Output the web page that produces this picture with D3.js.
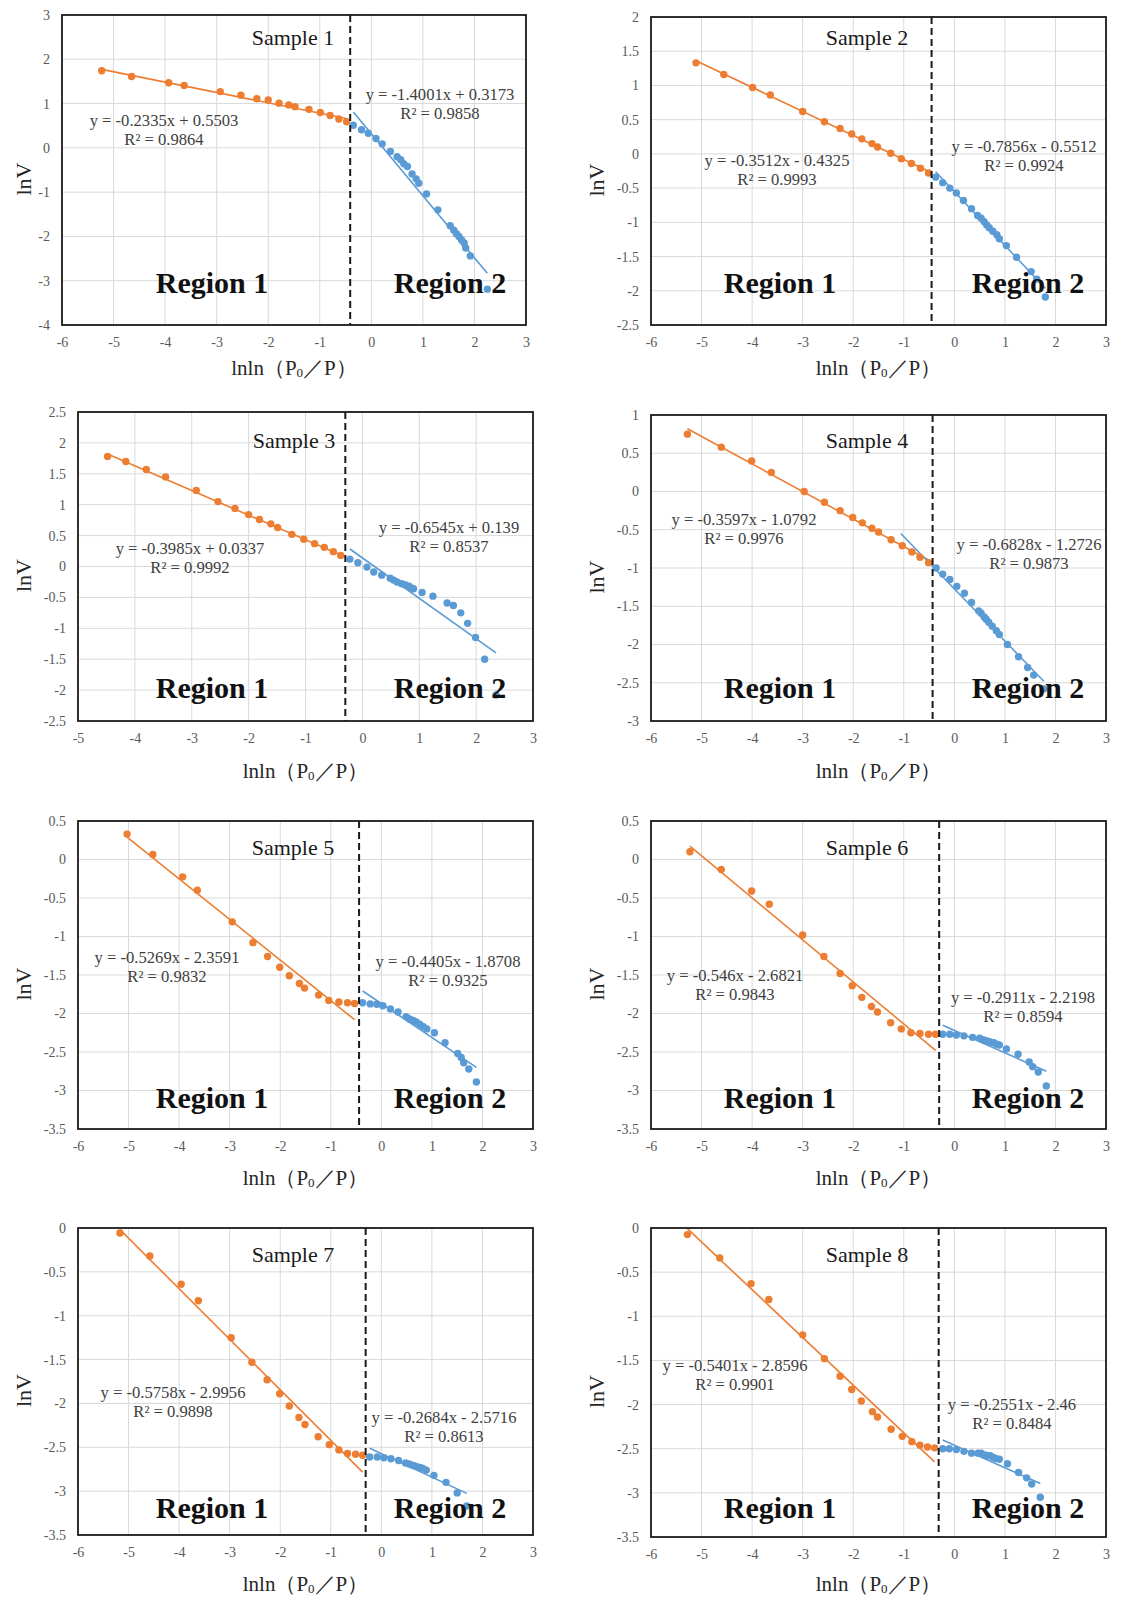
<!DOCTYPE html>
<html>
<head>
<meta charset="utf-8">
<script src="https://cdn.jsdelivr.net/npm/d3@7"></script>
<style>
  body { margin: 0; background: #fff; }
  svg { display: block; }
</style>
</head>
<body>
<svg id="chart" width="1121" height="1599"></svg>
<script>
// ---- data ----
const sampleNames = ["Sample 1", "Sample 2", "Sample 3", "Sample 4", "Sample 5", "Sample 6", "Sample 7", "Sample 8"];
const xDomains = [[-6, 3], [-6, 3], [-5, 3], [-6, 3], [-6, 3], [-6, 3], [-6, 3], [-6, 3]];
const yDomains = [[-4, 3], [-2.5, 2], [-2.5, 2.5], [-3, 1], [-3.5, 0.5], [-3.5, 0.5], [-3.5, 0], [-3.5, 0]];
const yTickStep = [1, 0.5, 0.5, 0.5, 0.5, 0.5, 0.5, 0.5];
const boundaryX = [-0.41, -0.45, -0.30, -0.43, -0.44, -0.30, -0.31, -0.31];

const sample1Region1 = [[-5.23,1.74],[-4.65,1.61],[-3.93,1.47],[-3.63,1.41],[-2.93,1.27],[-2.53,1.19],[-2.22,1.11],[-2.0,1.08],[-1.79,1.01],[-1.6,0.97],[-1.48,0.93],[-1.21,0.87],[-0.99,0.80],[-0.8,0.73],[-0.63,0.65],[-0.48,0.59]];
const sample1Region2 = [[-0.35,0.51],[-0.19,0.41],[-0.06,0.33],[0.09,0.21],[0.21,0.09],[0.37,-0.08],[0.5,-0.2],[0.57,-0.27],[0.63,-0.36],[0.7,-0.42],[0.79,-0.59],[0.87,-0.7],[0.92,-0.8],[1.07,-1.04],[1.29,-1.4],[1.53,-1.76],[1.6,-1.86],[1.65,-1.94],[1.7,-2.0],[1.75,-2.08],[1.8,-2.15],[1.83,-2.26],[1.92,-2.44],[2.25,-3.19]];
const sample2Region1 = [[-5.11,1.33],[-4.56,1.16],[-3.99,0.97],[-3.64,0.86],[-3.0,0.62],[-2.57,0.47],[-2.26,0.37],[-2.03,0.29],[-1.83,0.22],[-1.63,0.15],[-1.52,0.10],[-1.26,0.01],[-1.05,-0.07],[-0.85,-0.14],[-0.67,-0.21],[-0.51,-0.28]];
const sample2Region2 = [[-0.37,-0.34],[-0.23,-0.42],[-0.09,-0.50],[0.04,-0.57],[0.18,-0.68],[0.34,-0.80],[0.46,-0.90],[0.53,-0.94],[0.59,-0.99],[0.64,-1.04],[0.69,-1.08],[0.76,-1.13],[0.84,-1.18],[0.89,-1.24],[1.03,-1.34],[1.23,-1.51],[1.52,-1.72],[1.63,-1.83],[1.80,-2.09]];
const sample3Region1 = [[-4.48,1.78],[-4.16,1.70],[-3.80,1.57],[-3.46,1.45],[-2.92,1.23],[-2.54,1.05],[-2.24,0.94],[-2.0,0.84],[-1.81,0.76],[-1.61,0.69],[-1.49,0.63],[-1.24,0.52],[-1.03,0.44],[-0.84,0.37],[-0.67,0.31],[-0.51,0.24],[-0.38,0.18]];
const sample3Region2 = [[-0.22,0.12],[-0.08,0.06],[0.08,-0.01],[0.2,-0.09],[0.34,-0.14],[0.49,-0.19],[0.55,-0.22],[0.61,-0.25],[0.69,-0.28],[0.76,-0.30],[0.82,-0.32],[0.87,-0.35],[0.90,-0.36],[1.05,-0.42],[1.24,-0.48],[1.49,-0.59],[1.60,-0.63],[1.73,-0.75],[1.85,-0.92],[1.99,-1.15],[2.15,-1.50],[2.35,-2.08]];
const sample4Region1 = [[-5.28,0.75],[-4.61,0.58],[-4.01,0.40],[-3.62,0.25],[-2.97,0.0],[-2.57,-0.14],[-2.26,-0.25],[-2.01,-0.34],[-1.82,-0.41],[-1.63,-0.48],[-1.50,-0.53],[-1.25,-0.63],[-1.03,-0.71],[-0.84,-0.79],[-0.68,-0.86],[-0.51,-0.93]];
const sample4Region2 = [[-0.36,-1.0],[-0.23,-1.08],[-0.09,-1.15],[0.05,-1.24],[0.2,-1.33],[0.34,-1.45],[0.48,-1.56],[0.53,-1.59],[0.59,-1.64],[0.63,-1.67],[0.68,-1.71],[0.75,-1.76],[0.83,-1.82],[0.89,-1.87],[1.05,-2.0],[1.27,-2.16],[1.45,-2.30],[1.57,-2.40],[1.77,-2.58]];
const sample5Region1 = [[-5.03,0.33],[-4.52,0.065],[-3.93,-0.225],[-3.64,-0.40],[-2.95,-0.81],[-2.54,-1.08],[-2.25,-1.26],[-2.01,-1.40],[-1.82,-1.51],[-1.62,-1.61],[-1.52,-1.67],[-1.24,-1.76],[-1.04,-1.83],[-0.84,-1.85],[-0.67,-1.86],[-0.53,-1.87]];
const sample5Region2 = [[-0.37,-1.86],[-0.22,-1.875],[-0.09,-1.88],[0.03,-1.90],[0.18,-1.94],[0.33,-1.98],[0.49,-2.04],[0.56,-2.07],[0.63,-2.09],[0.69,-2.11],[0.76,-2.14],[0.83,-2.17],[0.90,-2.20],[1.05,-2.25],[1.26,-2.38],[1.51,-2.52],[1.58,-2.57],[1.63,-2.64],[1.73,-2.72],[1.88,-2.89]];
const sample6Region1 = [[-5.23,0.10],[-4.61,-0.13],[-4.01,-0.41],[-3.66,-0.58],[-3.0,-0.98],[-2.58,-1.26],[-2.26,-1.48],[-2.02,-1.64],[-1.83,-1.79],[-1.64,-1.91],[-1.52,-1.98],[-1.26,-2.12],[-1.05,-2.20],[-0.86,-2.25],[-0.68,-2.26],[-0.51,-2.27],[-0.37,-2.27]];
const sample6Region2 = [[-0.23,-2.27],[-0.09,-2.27],[0.04,-2.28],[0.19,-2.29],[0.36,-2.31],[0.50,-2.32],[0.56,-2.34],[0.61,-2.35],[0.66,-2.36],[0.71,-2.37],[0.78,-2.38],[0.84,-2.40],[0.89,-2.41],[1.03,-2.46],[1.26,-2.53],[1.48,-2.63],[1.55,-2.69],[1.66,-2.76],[1.82,-2.94]];
const sample7Region1 = [[-5.17,-0.057],[-4.58,-0.32],[-3.96,-0.64],[-3.62,-0.83],[-2.97,-1.25],[-2.56,-1.53],[-2.26,-1.73],[-2.01,-1.89],[-1.82,-2.03],[-1.63,-2.16],[-1.51,-2.24],[-1.25,-2.38],[-1.03,-2.47],[-0.84,-2.53],[-0.67,-2.57],[-0.51,-2.58],[-0.37,-2.59]];
const sample7Region2 = [[-0.23,-2.61],[-0.08,-2.61],[0.05,-2.62],[0.19,-2.63],[0.34,-2.65],[0.48,-2.68],[0.55,-2.69],[0.60,-2.70],[0.65,-2.71],[0.70,-2.72],[0.77,-2.73],[0.82,-2.74],[0.89,-2.76],[1.04,-2.82],[1.28,-2.90],[1.50,-3.02],[1.69,-3.17]];
const sample8Region1 = [[-5.28,-0.075],[-4.64,-0.34],[-4.02,-0.63],[-3.67,-0.81],[-3.0,-1.21],[-2.57,-1.48],[-2.26,-1.68],[-2.03,-1.83],[-1.84,-1.96],[-1.62,-2.08],[-1.52,-2.14],[-1.25,-2.28],[-1.03,-2.36],[-0.84,-2.42],[-0.68,-2.46],[-0.53,-2.48],[-0.39,-2.49]];
const sample8Region2 = [[-0.23,-2.50],[-0.10,-2.50],[0.04,-2.51],[0.19,-2.53],[0.34,-2.55],[0.47,-2.55],[0.53,-2.55],[0.61,-2.57],[0.66,-2.58],[0.71,-2.58],[0.77,-2.60],[0.82,-2.61],[0.89,-2.62],[1.05,-2.67],[1.27,-2.77],[1.43,-2.83],[1.53,-2.90],[1.70,-3.05]];

// linear trendlines (from the figure labels)
const region1Slope = [-0.2335, -0.3512, -0.3985, -0.3597, -0.5269, -0.546, -0.5758, -0.5401];
const region1Intercept = [0.5503, -0.4325, 0.0337, -1.0792, -2.3591, -2.6821, -2.9956, -2.8596];
const region1R2 = [0.9864, 0.9993, 0.9992, 0.9976, 0.9832, 0.9843, 0.9898, 0.9901];
const region2Slope = [-1.4001, -0.7856, -0.6545, -0.6828, -0.4405, -0.2911, -0.2684, -0.2551];
const region2Intercept = [0.3173, -0.5512, 0.139, -1.2726, -1.8708, -2.2198, -2.5716, -2.46];
const region2R2 = [0.9858, 0.9924, 0.8537, 0.9873, 0.9325, 0.8594, 0.8613, 0.8484];
const region2Backward = [0, 0, 0, 0.7, 0, 0, 0, 0]; // sample 4 trendline is forecast backwards

const region1Points = [sample1Region1, sample2Region1, sample3Region1, sample4Region1, sample5Region1, sample6Region1, sample7Region1, sample8Region1];
const region2Points = [sample1Region2, sample2Region2, sample3Region2, sample4Region2, sample5Region2, sample6Region2, sample7Region2, sample8Region2];

// ---- layout (pixels) ----
// box: [left, top, right, bottom]; eq: [cx, baseline]
const layout = [
  { box: [62, 15, 526, 325],   title: [293, 45],   reg: 293,  eqL: [164, 126],  eqR: [440, 100],  xt: 375 },
  { box: [651, 17, 1106, 325], title: [867, 45],   reg: 293,  eqL: [777, 166],  eqR: [1024, 152], xt: 375 },
  { box: [78, 412, 533, 721],  title: [294, 448],  reg: 698,  eqL: [190, 554],  eqR: [449, 533],  xt: 778 },
  { box: [651, 415, 1106, 721],title: [867, 448],  reg: 698,  eqL: [744, 525],  eqR: [1029, 550], xt: 778 },
  { box: [78, 821, 533, 1129], title: [293, 855],  reg: 1108, eqL: [167, 963],  eqR: [448, 967],  xt: 1185 },
  { box: [651, 821, 1106, 1129],title: [867, 855], reg: 1108, eqL: [735, 981],  eqR: [1023, 1003],xt: 1185 },
  { box: [78, 1228, 533, 1535],title: [293, 1262], reg: 1518, eqL: [173, 1398], eqR: [444, 1423], xt: 1591 },
  { box: [651, 1228, 1106, 1537],title: [867, 1262],reg: 1518, eqL: [735, 1371], eqR: [1012, 1410],xt: 1591 }
];

const ORANGE = "#ED7D31";
const BLUE = "#5B9BD5";
const serif = "'Times New Roman', 'Liberation Serif', serif";

const svg = d3.select("#chart");
const fmt = d => String(Math.round(d * 10) / 10);

function eqText(m, b) {
  const sign = b < 0 ? " - " : " + ";
  return "y = " + m + "x" + sign + Math.abs(b);
}

sampleNames.forEach((name, i) => {
  const L = layout[i];
  const [x0, y0, x1, y1] = L.box;
  const x = d3.scaleLinear().domain(xDomains[i]).range([x0, x1]);
  const y = d3.scaleLinear().domain(yDomains[i]).range([y1, y0]);
  const xt = d3.range(xDomains[i][0], xDomains[i][1] + 1e-9, 1);
  const yt = d3.range(yDomains[i][0], yDomains[i][1] + 1e-9, yTickStep[i]);
  const leftCol = x0 < 300;
  const g = svg.append("g");

  // gridlines
  g.append("g").selectAll("line").data(xt.slice(1, -1)).join("line")
    .attr("x1", d => x(d)).attr("x2", d => x(d)).attr("y1", y0).attr("y2", y1)
    .attr("stroke", "#d9d9d9").attr("stroke-width", 1);
  g.append("g").selectAll("line").data(yt.slice(1, -1)).join("line")
    .attr("y1", d => y(d)).attr("y2", d => y(d)).attr("x1", x0).attr("x2", x1)
    .attr("stroke", "#d9d9d9").attr("stroke-width", 1);

  // axes
  const ax = g.append("g").attr("transform", `translate(0,${y1})`)
    .call(d3.axisBottom(x).tickValues(xt).tickSize(0).tickPadding(12).tickFormat(fmt));
  const ay = g.append("g").attr("transform", `translate(${x0},0)`)
    .call(d3.axisLeft(y).tickValues(yt).tickSize(0).tickPadding(12).tickFormat(fmt));
  [ax, ay].forEach(a => {
    a.select(".domain").remove();
    a.selectAll("text").attr("font-family", serif).attr("font-size", 14).attr("fill", "#595959");
  });

  // trendlines
  const line = d3.line().x(d => x(d[0])).y(d => y(d[1]));
  const r1x = d3.extent(region1Points[i], d => d[0]);
  const r2x = d3.extent(region2Points[i], d => d[0]);
  r2x[0] -= region2Backward[i];
  g.append("path")
    .datum(r1x.map(v => [v, region1Slope[i] * v + region1Intercept[i]]))
    .attr("d", line).attr("fill", "none").attr("stroke", ORANGE).attr("stroke-width", 1.6);
  g.append("path")
    .datum(r2x.map(v => [v, region2Slope[i] * v + region2Intercept[i]]))
    .attr("d", line).attr("fill", "none").attr("stroke", BLUE).attr("stroke-width", 1.6);

  // points
  g.append("g").selectAll("circle").data(region1Points[i]).join("circle")
    .attr("cx", d => x(d[0])).attr("cy", d => y(d[1])).attr("r", 3.7).attr("fill", ORANGE);
  g.append("g").selectAll("circle").data(region2Points[i]).join("circle")
    .attr("cx", d => x(d[0])).attr("cy", d => y(d[1])).attr("r", 3.7).attr("fill", BLUE);

  // region boundary
  g.append("line")
    .attr("x1", x(boundaryX[i])).attr("x2", x(boundaryX[i])).attr("y1", y0).attr("y2", y1)
    .attr("stroke", "#1a1a1a").attr("stroke-width", 2).attr("stroke-dasharray", "7,4");

  // frame
  g.append("rect").attr("x", x0).attr("y", y0).attr("width", x1 - x0).attr("height", y1 - y0)
    .attr("fill", "none").attr("stroke", "#1a1a1a").attr("stroke-width", 1.8);

  // texts
  g.append("text").attr("x", L.title[0]).attr("y", L.title[1])
    .attr("text-anchor", "middle").attr("font-family", serif).attr("font-size", 22).attr("fill", "#1a1a1a")
    .text(name);

  const regX = leftCol ? [212, 450] : [780, 1028];
  ["Region 1", "Region 2"].forEach((t, k) => {
    g.append("text").attr("x", regX[k]).attr("y", L.reg)
      .attr("text-anchor", "middle").attr("font-family", serif).attr("font-weight", "bold")
      .attr("font-size", 30).attr("fill", "#111").text(t);
  });

  const eqs = [
    [L.eqL, eqText(region1Slope[i], region1Intercept[i]), region1R2[i]],
    [L.eqR, eqText(region2Slope[i], region2Intercept[i]), region2R2[i]]
  ];
  eqs.forEach(([pos, t, r2]) => {
    const te = g.append("text").attr("text-anchor", "middle").attr("font-family", serif)
      .attr("font-size", 16.6).attr("fill", "#404040");
    te.append("tspan").attr("x", pos[0]).attr("y", pos[1]).text(t);
    te.append("tspan").attr("x", pos[0]).attr("y", pos[1] + 19).text("R\u00B2 = " + r2);
  });

  // axis titles
  const xtitle = g.append("text").attr("x", (x0 + x1) / 2).attr("y", L.xt)
    .attr("text-anchor", "middle").attr("font-family", serif).attr("font-size", 21).attr("fill", "#262626");
  xtitle.append("tspan").text("lnln\uFF08P");
  xtitle.append("tspan").attr("font-size", 13).attr("dy", 2).text("0");
  xtitle.append("tspan").attr("dy", -2).text("\uFF0FP\uFF09");

  const ycx = leftCol ? 23 : 596;
  const ycy = (y0 + y1) / 2 + 9;
  g.append("text").attr("transform", `translate(${ycx},${ycy}) rotate(-90)`)
    .attr("text-anchor", "middle").attr("dy", "0.35em")
    .attr("font-family", serif).attr("font-size", 22).attr("fill", "#262626")
    .text("lnV");
});
</script>
</body>
</html>
